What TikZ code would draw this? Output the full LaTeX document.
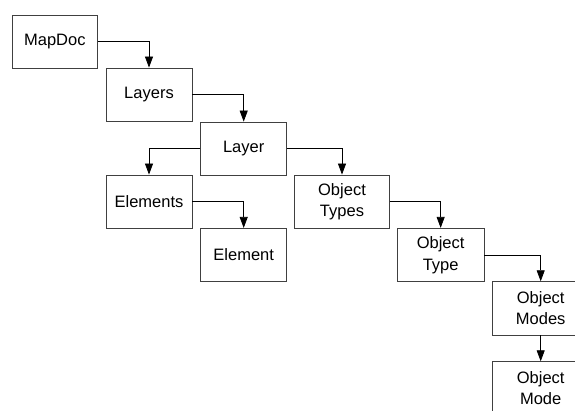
\documentclass[tikz,border=0pt]{standalone}
\usepackage{fontspec}
\setmainfont{Liberation Sans}
\usetikzlibrary{arrows.meta}

\tikzset{
  box/.style={draw=black!75, line width=0.8pt, fill=white, inner sep=0pt,
    minimum height=53.3pt, align=center,
    font=\fontsize{16.5}{21.5}\selectfont},
  link/.style={draw=black, line width=0.8pt,
    -{Triangle[length=11pt, width=8pt]}}
}

\begin{document}
\begin{tikzpicture}[x=1pt, y=-1pt]
  \useasboundingbox (0,0) rectangle (575,411);
  \clip (0,0) rectangle (575,411);

  % document tree boxes
  \node[box, minimum width=85.7pt] (mapdoc)   at (54.85, 41.65) {MapDoc};
  \node[box, minimum width=86pt]   (layers)   at (149, 94.65)   {Layers};
  \node[box, minimum width=86pt]   (layer)    at (243.7, 148.65) {Layer};
  \node[box, minimum width=86pt]   (elements) at (149, 201.65)  {Elements};
  \node[box, minimum width=94.6pt] (objtypes) at (342, 201.65)  {Object\\Types};
  \node[box, minimum width=86pt]   (element)  at (243.7, 255)   {Element};
  \node[box, minimum width=86.7pt] (objtype)  at (440.65, 255)  {Object\\Type};
  \node[box, minimum width=97.4pt] (objmodes) at (540.7, 308.35) {Object\\Modes};
  \node[box, minimum width=97.4pt] (objmode)  at (540.7, 388.35) {Object\\Mode};

  % parent-to-child connectors
  \draw[link] (mapdoc.east)   -| (layers.north);
  \draw[link] (layers.east)   -| (layer.north);
  \draw[link] (layer.west)    -| (elements.north);
  \draw[link] (layer.east)    -| (objtypes.north);
  \draw[link] (elements.east) -| (element.north);
  \draw[link] (objtypes.east) -| (objtype.north);
  \draw[link] (objtype.east)  -| (objmodes.north);
  \draw[link] (objmodes.south) -- (objmode.north);
\end{tikzpicture}
\end{document}
